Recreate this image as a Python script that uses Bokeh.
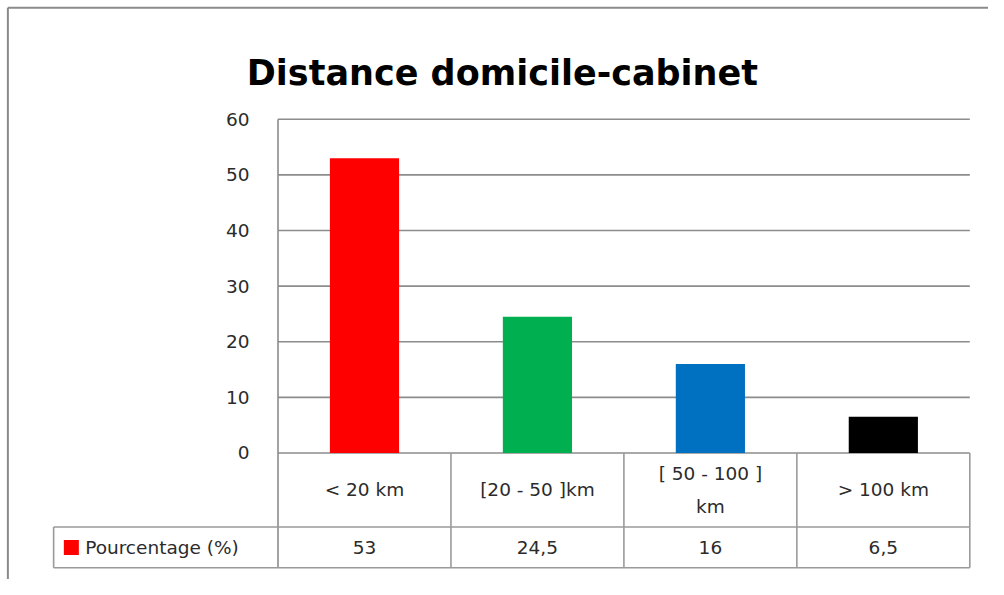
from bokeh.plotting import figure
from bokeh.models import Range1d, ColumnDataSource
from bokeh.embed import file_html
from bokeh.resources import INLINE
from bokeh.core.properties import value

# ---------------- data ----------------
title_text = "Distance domicile-cabinet"
categories = ["< 20 km", "[20 - 50 ]km", "[ 50 - 100 ]\nkm", "> 100 km"]
values = [53, 24.5, 16, 6.5]
value_labels = ["53", "24,5", "16", "6,5"]
bar_colors = ["#ff0000", "#00b050", "#0070c0", "#000000"]
series_name = "Pourcentage (%)"
y_ticks = [0, 10, 20, 30, 40, 50, 60]

# ---------------- layout ----------------
W, H = 988, 579          # figure size
REF_W, REF_H = 1004, 595 # layout reference canvas
PLOT_LEFT, PLOT_RIGHT = 282, 985
PLOT_TOP, PLOT_BOTTOM = 122, 465
YMAX_VAL = 60
n = len(categories)
SX = (PLOT_RIGHT - PLOT_LEFT) / n
SY = (PLOT_BOTTOM - PLOT_TOP) / YMAX_VAL

def xd(px):
    return (px - PLOT_LEFT) / SX

def yd(py):
    return (PLOT_BOTTOM - py) / SY

FONT = "DejaVu Sans"
TXT = "#2b2b2b"
LINE = "#9a9a9a"
FS = "18.5px"

p = figure(width=W, height=H, output_backend="svg", toolbar_location=None,
           x_range=Range1d(xd(0), xd(REF_W)),
           y_range=Range1d(yd(REF_H), yd(0)),
           min_border=0)
p.axis.visible = False
p.grid.visible = False
p.outline_line_color = None
p.background_fill_color = "white"
p.border_fill_color = "white"

# outer frame (left + top)
p.segment(x0=[xd(7.5), xd(7.5)], y0=[yd(7.5), yd(7.5)], x1=[xd(7.5), xd(1100)], y1=[yd(700), yd(7.5)],
          line_color="#8a8a8a", line_width=2)

# gridlines
p.segment(x0=[0] * len(y_ticks), x1=[n] * len(y_ticks), y0=y_ticks, y1=y_ticks,
          line_color="#8c8c8c", line_width=1.6)

# bars
src = ColumnDataSource(dict(x=[i + 0.5 for i in range(n)], top=values, color=bar_colors,
                            cat=categories, lab=value_labels))
p.vbar(x="x", width=0.4, top="top", bottom=0, fill_color="color", line_color=None, source=src)

# table
row1_bot = yd(541)
row2_bot = yd(583)
leg_left = xd(54)
p.segment(x0=[0], x1=[0], y0=[YMAX_VAL], y1=[row2_bot], line_color="#8c8c8c", line_width=1.6)
p.segment(x0=list(range(1, n + 1)), x1=list(range(1, n + 1)),
          y0=[0] * n, y1=[row2_bot] * n, line_color=LINE, line_width=1.6)
p.segment(x0=[leg_left, leg_left], x1=[n, n], y0=[row1_bot, row2_bot], y1=[row1_bot, row2_bot],
          line_color=LINE, line_width=1.6)
p.segment(x0=[leg_left], x1=[leg_left], y0=[row1_bot], y1=[row2_bot], line_color=LINE, line_width=1.6)

# category labels
p.text(x="x", y=(0 + row1_bot) / 2, text="cat", source=src, text_align="center",
       text_baseline="middle", text_font=value(FONT), text_font_size=FS,
       text_color=TXT, text_line_height=1.6)
# value labels
p.text(x="x", y=(row1_bot + row2_bot) / 2, text="lab", source=src, text_align="center",
       text_baseline="middle", text_font=value(FONT), text_font_size=FS, text_color=TXT)

# legend key + name
p.scatter(x=[xd(72)], y=[(row1_bot + row2_bot) / 2], marker="square", size=15,
          fill_color=bar_colors[0], line_color=None)
p.text(x=[xd(86)], y=[(row1_bot + row2_bot) / 2], text=[series_name], text_align="left",
       text_baseline="middle", text_font=value(FONT), text_font_size=FS, text_color=TXT)

# y tick labels
p.text(x=[xd(253)] * len(y_ticks), y=y_ticks, text=[str(t) for t in y_ticks],
       text_align="right", text_baseline="middle", text_font=value(FONT),
       text_font_size=FS, text_color=TXT)

# title
p.text(x=[xd(510)], y=[yd(74)], text=[title_text], text_align="center",
       text_baseline="alphabetic", text_font=value(FONT), text_font_size="35px",
       text_font_style="bold", text_color="#000000")

open("out.html", "w").write(file_html(p, INLINE))
